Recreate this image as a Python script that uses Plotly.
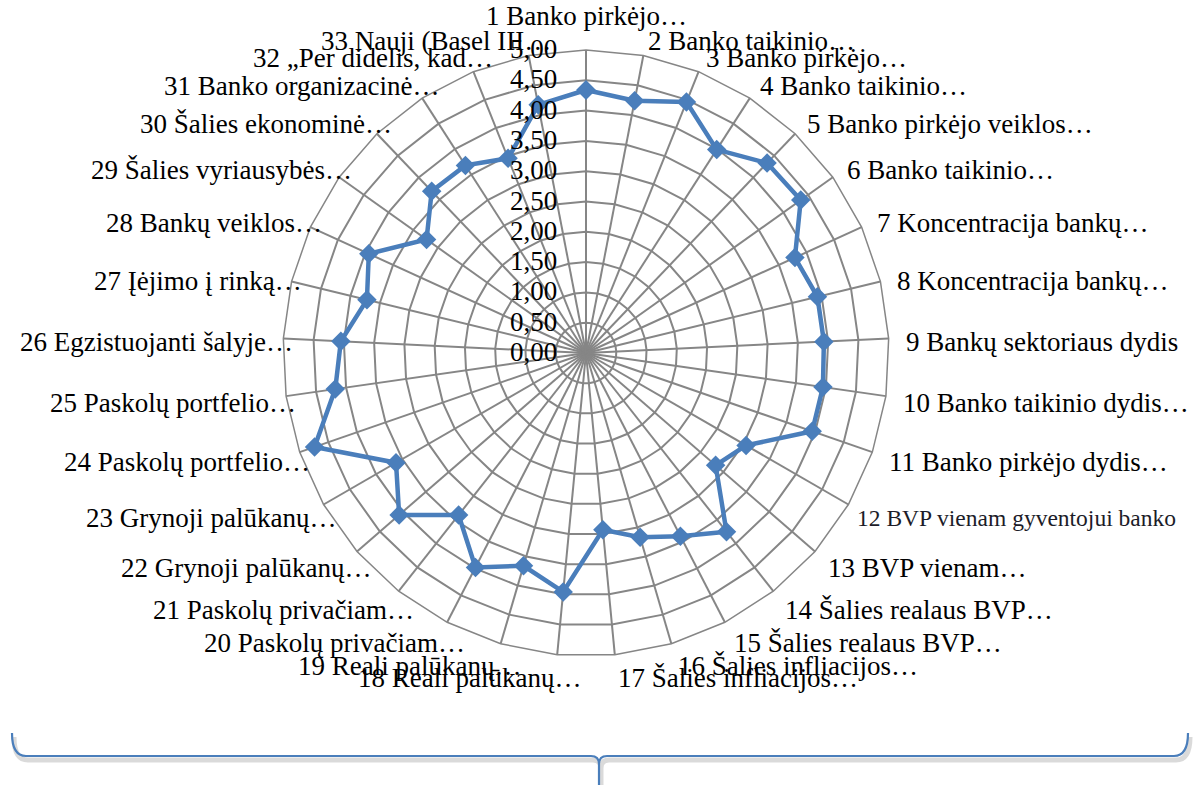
import math
import plotly.graph_objects as go

# Survey factors (axis categories) and their mean scores
categories = [
    "1 Banko pirkėjo…", "2 Banko taikinio…", "3 Banko pirkėjo…", "4 Banko taikinio…",
    "5 Banko pirkėjo veiklos…", "6 Banko taikinio…", "7 Koncentracija bankų…",
    "8 Koncentracija bankų…", "9 Bankų sektoriaus dydis", "10 Banko taikinio dydis…",
    "11 Banko pirkėjo dydis…", "12 BVP vienam gyventojui banko", "13 BVP vienam…",
    "14 Šalies realaus BVP…", "15 Šalies realaus BVP…", "16 Šalies infliacijos…",
    "17 Šalies infliacijos…", "18 Reali palūkanų…", "19 Reali palūkanų…",
    "20 Paskolų privačiam…", "21 Paskolų privačiam…", "22 Grynoji palūkanų…",
    "23 Grynoji palūkanų…", "24 Paskolų portfelio…", "25 Paskolų portfelio…",
    "26 Egzistuojanti šalyje…", "27 Įėjimo į rinką…", "28 Bankų veiklos…",
    "29 Šalies vyriausybės…", "30 Šalies ekonominė…", "31 Banko organizacinė…",
    "32 „Per didelis, kad…", "33 Nauji (Basel III…",
]
scores = [
    4.34, 4.24, 4.46, 3.99, 4.33, 4.35, 3.79, 3.93, 3.93, 3.95, 3.95,
    3.05, 2.83, 3.75, 3.40, 3.17, 2.93, 3.96, 3.66, 3.98, 3.40, 4.08,
    3.62, 4.74, 4.18, 4.05, 3.72, 3.94, 3.23, 3.69, 3.68, 3.46, 4.17,
]
radial_ticks = [0, 0.5, 1.0, 1.5, 2.0, 2.5, 3.0, 3.5, 4.0, 4.5, 5.0]
radial_tick_text = ["0,00", "0,50", "1,00", "1,50", "2,00", "2,50",
                    "3,00", "3,50", "4,00", "4,50", "5,00"]

W, H = 1194, 785
BLUE = "#4A7EBB"
GRID = "#868686"
SERIF = "Liberation Serif, Times New Roman, serif"
R_MAX = 5.0

# polar area in pixels: centre and outer radius
cx, cy, R = 586, 353, 303


def px_x(x):
    return x / W


def px_y(y):
    return 1 - y / H


# close the polygon by repeating the first point
theta = categories + categories[:1]
r = scores + scores[:1]

fig = go.Figure()
fig.add_trace(go.Scatterpolar(
    r=r, theta=theta, mode="lines+markers",
    line=dict(color=BLUE, width=4.5),
    marker=dict(symbol="diamond", size=15, color=BLUE),
    showlegend=False, hoverinfo="skip",
))

annotations = []

# category labels placed just outside the outer ring
n = len(categories)
label_r = R + 15
for i, name in enumerate(categories):
    ang = 2 * math.pi * i / n
    s, c = math.sin(ang), math.cos(ang)
    x = cx + label_r * s
    y = cy - (label_r + 4) * c + 4
    size = 27
    color = "black"
    if name.startswith("12 "):
        size, color = 23.5, "#1c1c28"
        x -= 6
    if abs(s) < 1e-6:
        xanchor, yanchor, y = "center", "bottom", cy - R - 17
    elif s > 0:
        xanchor, yanchor = "left", "middle"
    else:
        xanchor, yanchor = "right", "middle"
        x += 27
    annotations.append(dict(
        x=px_x(x), y=px_y(y), xref="paper", yref="paper",
        text=name, showarrow=False, xanchor=xanchor, yanchor=yanchor,
        font=dict(family=SERIF, size=size, color=color),
    ))

# radial scale labels to the left of the top spoke
for v, txt in zip(radial_ticks, radial_tick_text):
    y = cy - R * v / R_MAX
    annotations.append(dict(
        x=px_x(cx - 27), y=px_y(y - 1), xref="paper", yref="paper",
        text=txt, showarrow=False, xanchor="right", yanchor="middle",
        font=dict(family=SERIF, size=27, color="black"),
    ))


# curly brace below the chart
def brace_path(dx=0, dy=0):
    xl, xr, xm = 12 + dx, 1188 + dx, 599 + dx
    yt, yh, yb = 733 + dy, 756 + dy, 785 + dy
    return (
        f"M {px_x(xl)},{px_y(yt)} "
        f"Q {px_x(xl)},{px_y(yh)} {px_x(xl + 14)},{px_y(yh)} "
        f"L {px_x(xm - 8)},{px_y(yh)} "
        f"Q {px_x(xm)},{px_y(yh)} {px_x(xm)},{px_y(yh + 8)} "
        f"L {px_x(xm)},{px_y(yb)} "
        f"M {px_x(xm)},{px_y(yh + 8)} "
        f"Q {px_x(xm)},{px_y(yh)} {px_x(xm + 8)},{px_y(yh)} "
        f"L {px_x(xr - 14)},{px_y(yh)} "
        f"Q {px_x(xr)},{px_y(yh)} {px_x(xr)},{px_y(yt)}"
    )


shapes = [
    dict(type="path", xref="paper", yref="paper", path=brace_path(2, 4),
         line=dict(color="rgba(150,150,150,0.35)", width=5), layer="below"),
    dict(type="path", xref="paper", yref="paper", path=brace_path(),
         line=dict(color=BLUE, width=2.2)),
]

fig.update_layout(
    width=W, height=H,
    margin=dict(l=0, r=0, t=0, b=0),
    paper_bgcolor="white",
    plot_bgcolor="white",
    font=dict(family=SERIF, size=27, color="black"),
    shapes=shapes,
    annotations=annotations,
    polar=dict(
        domain=dict(x=[px_x(cx - R), px_x(cx + R)], y=[px_y(cy + R), px_y(cy - R)]),
        bgcolor="white",
        gridshape="linear",
        radialaxis=dict(
            range=[0, R_MAX],
            tickvals=radial_ticks,
            angle=90,
            showline=False,
            showticklabels=False,
            gridcolor=GRID,
            gridwidth=1.5,
            ticks="",
        ),
        angularaxis=dict(
            type="category",
            categoryarray=categories,
            direction="clockwise",
            rotation=90,
            showline=True,
            linecolor=GRID,
            linewidth=1.5,
            gridcolor=GRID,
            gridwidth=1.5,
            ticks="",
            showticklabels=False,
        ),
    ),
)

fig.write_html("out.html")
